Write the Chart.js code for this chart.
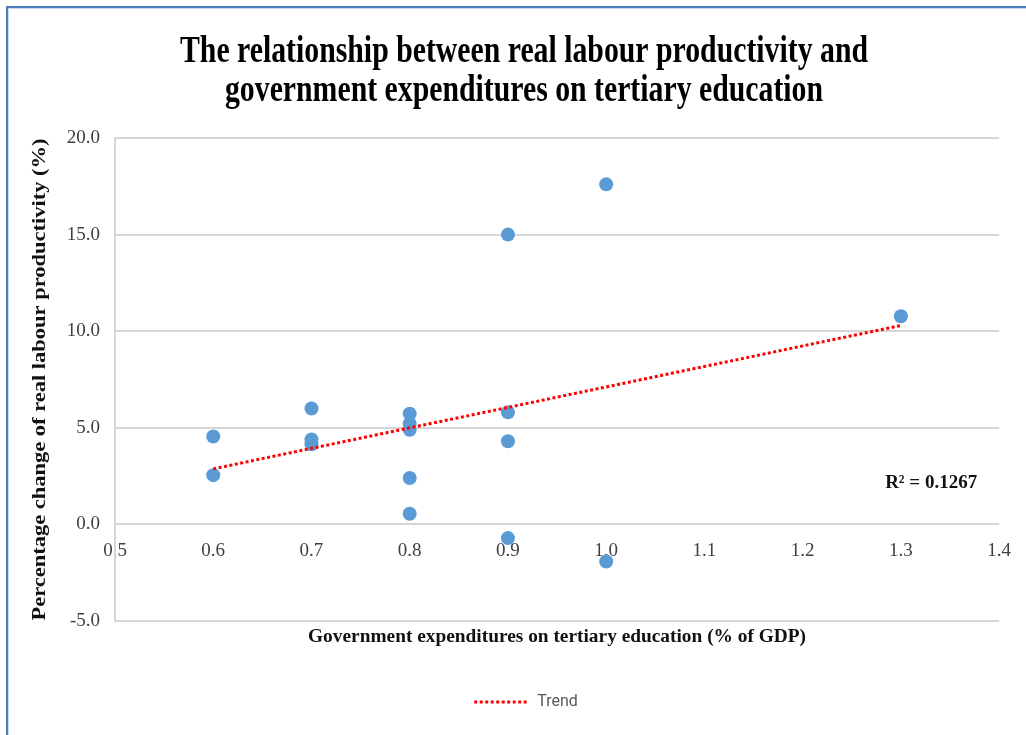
<!DOCTYPE html>
<html>
<head>
<meta charset="utf-8">
<script src="https://cdn.jsdelivr.net/npm/chart.js@4.4.1/dist/chart.umd.min.js"></script>
<style>
  html, body { margin: 0; padding: 0; background: #fff; overflow: hidden; }
  #wrap { position: relative; width: 1026px; height: 735px; }
  #frame {
    position: absolute; left: 6px; top: 6px; width: 1100px; height: 800px;
    border: 2px solid #4f7fbb; box-shadow: inset 0 0 0 1px #c9d8ec;
    pointer-events: none;
  }
  canvas { position: absolute; left: 0; top: 0; }
</style>
</head>
<body>
<div id="wrap">
  <div id="frame"></div>
  <canvas id="chart" width="1026" height="735"></canvas>
</div>
<script>
// Government spending on tertiary education (% of GDP) per observation
const spending = [0.6, 0.6, 0.7, 0.7, 0.7, 0.8, 0.8, 0.8, 0.8, 0.8, 0.9, 0.9, 0.9, 0.9, 1.0, 1.0, 1.3];
// Percentage change of real labour productivity per observation
const productivity = [4.55, 2.55, 6.0, 4.4, 4.15, 5.73, 5.21, 4.9, 2.4, 0.55, 5.8, 4.3, -0.71, 15.0, 17.6, -1.92, 10.77];

const titleLines = [
  'The relationship between real labour productivity and',
  'government expenditures on tertiary education'
];
const xAxisTitle = 'Government expenditures on tertiary education (% of GDP)';
const yAxisTitle = 'Percentage change of real labour productivity (%)';
const trendLabel = 'Trend';
const rSquaredText = 'R² = 0.1267';

const xRange = { min: 0.5, max: 1.4, step: 0.1 };
const yRange = { min: -5, max: 20, step: 5 };

const points = spending.map((x, i) => ({ x, y: productivity[i] }));

// Least-squares linear trend through the observations
function linearFit(xs, ys) {
  const n = xs.length;
  const mx = xs.reduce((a, b) => a + b, 0) / n;
  const my = ys.reduce((a, b) => a + b, 0) / n;
  let sxy = 0, sxx = 0;
  for (let i = 0; i < n; i++) {
    sxy += (xs[i] - mx) * (ys[i] - my);
    sxx += (xs[i] - mx) * (xs[i] - mx);
  }
  const slope = sxy / sxx;
  return { slope, intercept: my - slope * mx };
}
const fit = linearFit(spending, productivity);
const xLo = Math.min(...spending), xHi = Math.max(...spending);
const trendPoints = [xLo, xHi].map(x => ({ x, y: fit.intercept + fit.slope * x }));

const serif = '"Liberation Serif", "Times New Roman", serif';
const trendDash = [3, 2.5];

// Draw a text string stretched or condensed horizontally to a given length
function drawFitted(ctx, text, font, length, cx, cy, rotation) {
  ctx.save();
  ctx.font = font;
  ctx.textAlign = 'center';
  ctx.textBaseline = 'middle';
  const sx = length / ctx.measureText(text).width;
  ctx.translate(cx, cy);
  if (rotation) ctx.rotate(rotation);
  ctx.scale(sx, 1);
  ctx.fillText(text, 0, 0);
  ctx.restore();
}

// Two-line heading in a tall, condensed bold serif
const headingPlugin = {
  id: 'heading',
  afterDraw(chart) {
    const ctx = chart.ctx;
    ctx.save();
    ctx.font = 'bold 37px ' + serif;
    ctx.fillStyle = '#000';
    ctx.textAlign = 'center';
    ctx.textBaseline = 'alphabetic';
    const sx = 688 / ctx.measureText(titleLines[0]).width;
    const baselines = [62, 101];
    titleLines.forEach((t, i) => {
      ctx.save();
      ctx.translate(524, baselines[i]);
      ctx.scale(sx, 1);
      ctx.fillText(t, 0, 0);
      ctx.restore();
    });
    ctx.restore();
  }
};

// Axis titles and the goodness-of-fit note
const annotationsPlugin = {
  id: 'annotations',
  afterDatasetsDraw(chart) {
    const ctx = chart.ctx;
    const area = chart.chartArea;
    ctx.save();
    ctx.fillStyle = '#111';
    drawFitted(ctx, xAxisTitle, 'bold 18px ' + serif, 498, (area.left + area.right) / 2, 637, 0);
    drawFitted(ctx, yAxisTitle, 'bold 19px ' + serif, 482, 40, (area.top + area.bottom) / 2, -Math.PI / 2);
    ctx.font = 'bold 19px ' + serif;
    ctx.textAlign = 'right';
    ctx.textBaseline = 'middle';
    ctx.fillText(rSquaredText, area.right - 22, 483);
    ctx.restore();
  }
};

new Chart(document.getElementById('chart'), {
  data: {
    datasets: [
      {
        type: 'scatter',
        label: 'Observations',
        data: points,
        backgroundColor: '#5b9bd5',
        borderColor: '#5b9bd5',
        borderWidth: 0,
        pointRadius: 7,
        pointHoverRadius: 7,
        order: 2
      },
      {
        type: 'line',
        label: trendLabel,
        data: trendPoints,
        borderColor: '#ff0000',
        backgroundColor: '#ff0000',
        borderWidth: 3,
        borderDash: trendDash,
        borderCapStyle: 'butt',
        pointRadius: 0,
        fill: false,
        order: 1
      }
    ]
  },
  options: {
    responsive: false,
    animation: false,
    layout: { padding: { left: 26, right: 0, top: 138, bottom: 15 } },
    plugins: {
      title: { display: false },
      tooltip: { enabled: false },
      legend: {
        position: 'bottom',
        labels: {
          usePointStyle: true,
          pointStyle: 'line',
          pointStyleWidth: 55,
          boxHeight: 16,
          padding: 10,
          color: '#595959',
          font: { family: 'Roboto, "Liberation Sans", sans-serif', size: 16 },
          generateLabels(chart) {
            return Chart.defaults.plugins.legend.labels.generateLabels(chart)
              .filter(item => item.text === trendLabel)
              .map(item => Object.assign(item, {
                pointStyle: 'line',
                lineDash: trendDash,
                lineWidth: 3,
                lineCap: 'butt',
                strokeStyle: '#ff0000',
                fillStyle: '#ff0000'
              }));
          }
        }
      }
    },
    scales: {
      x: {
        type: 'linear',
        position: { y: 0 },
        z: 1,
        min: xRange.min,
        max: xRange.max,
        ticks: {
          stepSize: xRange.step,
          padding: 15,
          color: '#404040',
          font: { family: serif, size: 19 },
          callback: v => Number(v).toFixed(1)
        },
        grid: { display: false, drawTicks: false },
        border: { display: false }
      },
      x2: {
        type: 'linear',
        position: 'bottom',
        min: 0, max: 1,
        ticks: { display: false },
        grid: { display: false, drawTicks: false },
        border: { display: false },
        afterFit(scale) { scale.height = 63; }
      },
      y: {
        type: 'linear',
        position: 'left',
        min: yRange.min,
        max: yRange.max,
        ticks: {
          stepSize: yRange.step,
          padding: 15,
          color: '#404040',
          font: { family: serif, size: 19 },
          callback: v => Number(v).toFixed(1)
        },
        grid: { color: '#d6d6d6', lineWidth: 2, drawTicks: false },
        border: { display: true, color: '#d6d6d6', width: 2 },
        afterFit(scale) { scale.width = 89; }
      },
      yR: {
        type: 'linear',
        position: 'right',
        min: 0, max: 1,
        ticks: { display: false },
        grid: { display: false, drawTicks: false },
        border: { display: false },
        afterFit(scale) { scale.width = 26; }
      }
    }
  },
  plugins: [headingPlugin, annotationsPlugin]
});
</script>
</body>
</html>
